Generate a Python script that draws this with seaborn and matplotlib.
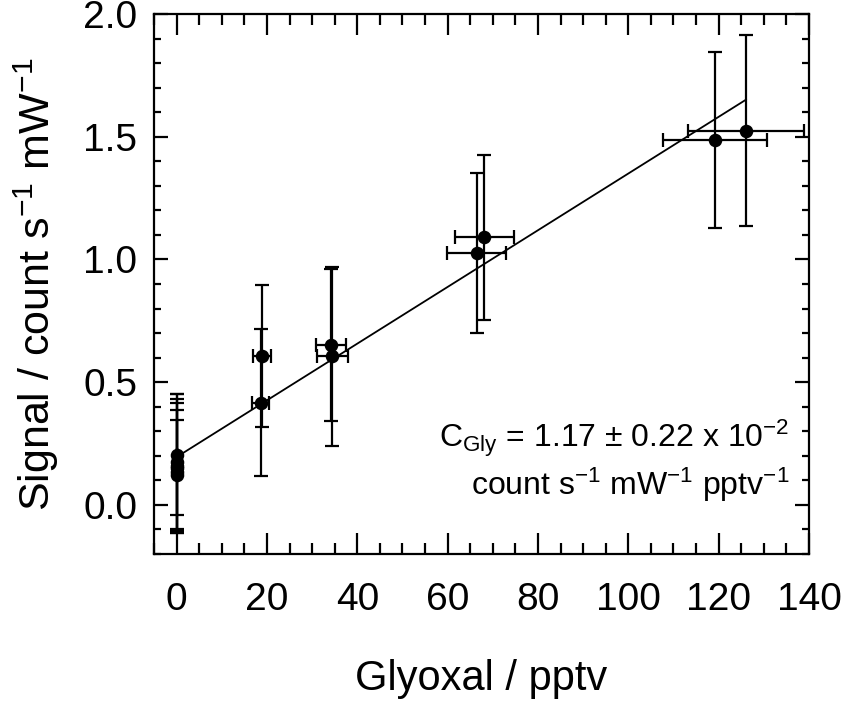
import numpy as np
import pandas as pd
import matplotlib
matplotlib.use("Agg")
import matplotlib.pyplot as plt
from matplotlib.ticker import MultipleLocator
import seaborn as sns

sns.set_theme(style="ticks")
plt.rcParams['font.family'] = ['Liberation Sans', 'DejaVu Sans']
plt.rcParams['mathtext.fontset'] = 'custom'
plt.rcParams['mathtext.rm'] = 'Liberation Sans'
plt.rcParams['mathtext.it'] = 'Liberation Sans:italic'
plt.rcParams['mathtext.default'] = 'regular'

# calibration points
glyoxal = [0, 0, 0, 0, 0, 0, 18.6, 19.0, 34.2, 34.5, 66.4, 68.1, 119.2, 126.1]
glyoxal_err = [0, 0, 0, 0, 0, 0, 1.9, 2.0, 3.4, 3.4, 6.5, 6.5, 11.5, 12.8]
signal = [0.205, 0.175, 0.16, 0.15, 0.135, 0.12, 0.417, 0.606, 0.65, 0.606,
          1.027, 1.091, 1.487, 1.525]
signal_err = [0.245, 0.275, 0.27, 0.265, 0.25, 0.225, 0.30, 0.29, 0.31, 0.365,
              0.326, 0.336, 0.36, 0.388]

# linear fit
fit_intercept = 0.195
fit_slope = 0.01155

df = pd.DataFrame({"glyoxal": glyoxal, "signal": signal})

fig = plt.figure(figsize=(8.49, 7.06), dpi=100)
ax = fig.add_axes([0.1814, 0.2153, 0.7715, 0.7649])

ax.errorbar(glyoxal, signal, xerr=glyoxal_err, yerr=signal_err, fmt="none",
            ecolor="black", elinewidth=1.6, capsize=4.8, capthick=1.6, zorder=2)
sns.scatterplot(data=df, x="glyoxal", y="signal", ax=ax, color="black",
                s=95, edgecolor="black", linewidth=0, zorder=3)

fit_x = np.array([0, max(glyoxal)])
fit_df = pd.DataFrame({"x": fit_x, "y": fit_intercept + fit_slope * fit_x})
sns.lineplot(data=fit_df, x="x", y="y", ax=ax, color="black", linewidth=1.3, zorder=2)

ax.set_xlim(-5, 140)
ax.set_ylim(-0.2, 2.0)
ax.xaxis.set_major_locator(MultipleLocator(20))
ax.xaxis.set_minor_locator(MultipleLocator(5))
ax.yaxis.set_major_locator(MultipleLocator(0.5))
ax.yaxis.set_minor_locator(MultipleLocator(0.1))
ax.yaxis.set_major_formatter(matplotlib.ticker.FormatStrFormatter("%.1f"))

for s in ax.spines.values():
    s.set_linewidth(1.6)
    s.set_color("black")
    s.set_visible(True)

ax.tick_params(axis="both", which="both", direction="in", top=True, right=True,
               width=1.6, color="black", labelsize=28, labelcolor="black")
ax.tick_params(axis="x", which="major", length=15, pad=20)
ax.tick_params(axis="x", which="minor", length=8)
ax.tick_params(axis="y", which="major", length=10, pad=12)
ax.tick_params(axis="y", which="minor", length=5)

ax.set_xlabel("Glyoxal / pptv", fontsize=30, labelpad=30, color="black")
ax.set_ylabel("Signal / count s$^{-1}$ mW$^{-1}$", fontsize=31, labelpad=16, color="black")

ax.text(0.97, 0.215, "C$_{Gly}$ = 1.17 $\\pm$ 0.22 x 10$^{\u22122}$",
        transform=ax.transAxes, ha="right", va="center", fontsize=23, color="black")
ax.text(0.97, 0.128, "count s$^{\u22121}$ mW$^{\u22121}$ pptv$^{\u22121}$",
        transform=ax.transAxes, ha="right", va="center", fontsize=23, color="black")

fig.savefig("out.png", dpi=100)
